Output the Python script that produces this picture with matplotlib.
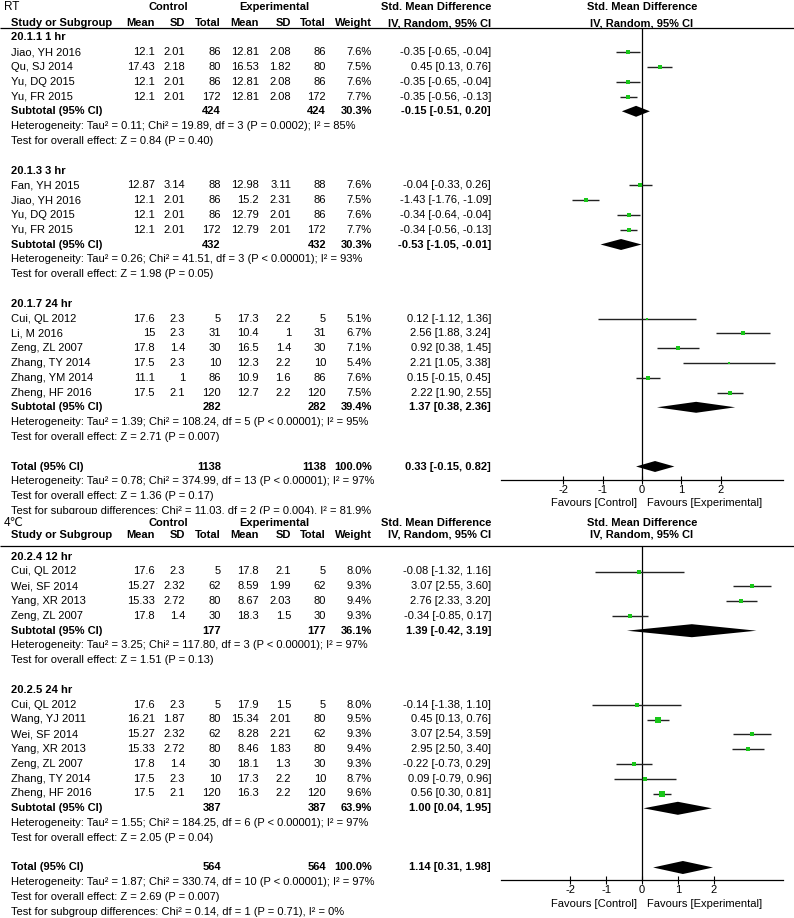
import matplotlib
matplotlib.use('Agg')  # headless
import matplotlib.pyplot as plt

plt.rcParams['font.family'] = ['Liberation Sans', 'DejaVu Sans']
plt.rcParams['font.size'] = 8
plt.rcParams['axes.unicode_minus'] = False

W, H = 794, 918
GREEN = '#19c619'

# ---------------- RT ----------------
rt_groups = ['20.1.1 1 hr', '20.1.3 3 hr', '20.1.7 24 hr']
rt_sizes = [4, 4, 6]
rt_study = ['Jiao, YH 2016', 'Qu, SJ 2014', 'Yu, DQ 2015', 'Yu, FR 2015',
            'Fan, YH 2015', 'Jiao, YH 2016', 'Yu, DQ 2015', 'Yu, FR 2015',
            'Cui, QL 2012', 'Li, M 2016', 'Zeng, ZL 2007', 'Zhang, TY 2014',
            'Zhang, YM 2014', 'Zheng, HF 2016']
rt_c_mean = [12.1, 17.43, 12.1, 12.1, 12.87, 12.1, 12.1, 12.1, 17.6, 15, 17.8, 17.5, 11.1, 17.5]
rt_c_sd = [2.01, 2.18, 2.01, 2.01, 3.14, 2.01, 2.01, 2.01, 2.3, 2.3, 1.4, 2.3, 1, 2.1]
rt_c_n = [86, 80, 86, 172, 88, 86, 86, 172, 5, 31, 30, 10, 86, 120]
rt_e_mean = [12.81, 16.53, 12.81, 12.81, 12.98, 15.2, 12.79, 12.79, 17.3, 10.4, 16.5, 12.3, 10.9, 12.7]
rt_e_sd = [2.08, 1.82, 2.08, 2.08, 3.11, 2.31, 2.01, 2.01, 2.2, 1, 1.4, 2.2, 1.6, 2.2]
rt_e_n = [86, 80, 86, 172, 88, 86, 86, 172, 5, 31, 30, 10, 86, 120]
rt_weight = [7.6, 7.5, 7.6, 7.7, 7.6, 7.5, 7.6, 7.7, 5.1, 6.7, 7.1, 5.4, 7.6, 7.5]
rt_smd = [-0.35, 0.45, -0.35, -0.35, -0.04, -1.43, -0.34, -0.34, 0.12, 2.56, 0.92, 2.21, 0.15, 2.22]
rt_lo = [-0.65, 0.13, -0.65, -0.56, -0.33, -1.76, -0.64, -0.56, -1.12, 1.88, 0.38, 1.05, -0.15, 1.90]
rt_hi = [-0.04, 0.76, -0.04, -0.13, 0.26, -1.09, -0.04, -0.13, 1.36, 3.24, 1.45, 3.38, 0.45, 2.55]
rt_sub_n = [424, 432, 282]
rt_sub_w = [30.3, 30.3, 39.4]
rt_sub_smd = [-0.15, -0.53, 1.37]
rt_sub_lo = [-0.51, -1.05, 0.38]
rt_sub_hi = [0.20, -0.01, 2.36]
rt_sub_het = ['Tau² = 0.11; Chi² = 19.89, df = 3 (P = 0.0002); I² = 85%',
              'Tau² = 0.26; Chi² = 41.51, df = 3 (P < 0.00001); I² = 93%',
              'Tau² = 1.39; Chi² = 108.24, df = 5 (P < 0.00001); I² = 95%']
rt_sub_z = ['Z = 0.84 (P = 0.40)', 'Z = 1.98 (P = 0.05)', 'Z = 2.71 (P = 0.007)']
rt_tot_n = 1138
rt_tot = [0.33, -0.15, 0.82]
rt_tot_het = 'Tau² = 0.78; Chi² = 374.99, df = 13 (P < 0.00001); I² = 97%'
rt_tot_z = 'Z = 1.36 (P = 0.17)'
rt_diff = 'Chi² = 11.03, df = 2 (P = 0.004), I² = 81.9%'

# ---------------- 4 C ----------------
c4_groups = ['20.2.4 12 hr', '20.2.5 24 hr']
c4_sizes = [4, 7]
c4_study = ['Cui, QL 2012', 'Wei, SF 2014', 'Yang, XR 2013', 'Zeng, ZL 2007',
            'Cui, QL 2012', 'Wang, YJ 2011', 'Wei, SF 2014', 'Yang, XR 2013',
            'Zeng, ZL 2007', 'Zhang, TY 2014', 'Zheng, HF 2016']
c4_c_mean = [17.6, 15.27, 15.33, 17.8, 17.6, 16.21, 15.27, 15.33, 17.8, 17.5, 17.5]
c4_c_sd = [2.3, 2.32, 2.72, 1.4, 2.3, 1.87, 2.32, 2.72, 1.4, 2.3, 2.1]
c4_c_n = [5, 62, 80, 30, 5, 80, 62, 80, 30, 10, 120]
c4_e_mean = [17.8, 8.59, 8.67, 18.3, 17.9, 15.34, 8.28, 8.46, 18.1, 17.3, 16.3]
c4_e_sd = [2.1, 1.99, 2.03, 1.5, 1.5, 2.01, 2.21, 1.83, 1.3, 2.2, 2.2]
c4_e_n = [5, 62, 80, 30, 5, 80, 62, 80, 30, 10, 120]
c4_weight = [8.0, 9.3, 9.4, 9.3, 8.0, 9.5, 9.3, 9.4, 9.3, 8.7, 9.6]
c4_smd = [-0.08, 3.07, 2.76, -0.34, -0.14, 0.45, 3.07, 2.95, -0.22, 0.09, 0.56]
c4_lo = [-1.32, 2.55, 2.33, -0.85, -1.38, 0.13, 2.54, 2.50, -0.73, -0.79, 0.30]
c4_hi = [1.16, 3.60, 3.20, 0.17, 1.10, 0.76, 3.59, 3.40, 0.29, 0.96, 0.81]
c4_sub_n = [177, 387]
c4_sub_w = [36.1, 63.9]
c4_sub_smd = [1.39, 1.00]
c4_sub_lo = [-0.42, 0.04]
c4_sub_hi = [3.19, 1.95]
c4_sub_het = ['Tau² = 3.25; Chi² = 117.80, df = 3 (P < 0.00001); I² = 97%',
              'Tau² = 1.55; Chi² = 184.25, df = 6 (P < 0.00001); I² = 97%']
c4_sub_z = ['Z = 1.51 (P = 0.13)', 'Z = 2.05 (P = 0.04)']
c4_tot_n = 564
c4_tot = [1.14, 0.31, 1.98]
c4_tot_het = 'Tau² = 1.87; Chi² = 330.74, df = 10 (P < 0.00001); I² = 97%'
c4_tot_z = 'Z = 2.69 (P = 0.007)'
c4_diff = 'Chi² = 0.14, df = 1 (P = 0.71), I² = 0%'

# column right edges (pixels)
COLS = [155, 185, 221, 259, 291, 326, 372, 491]
NAME_X = 11

fig = plt.figure(figsize=(W / 100, H / 100), dpi=100)


def fmt_ci(s, lo, hi):
    return f'{s:.2f} [{lo:.2f}, {hi:.2f}]'


def draw_panel(top_px, bot_px, base_px, z, label, hdr0, hdr1, line_r, axis_r, xmax, dh,
               groups, sizes, study, c_mean, c_sd, c_n, e_mean, e_sd, e_n, weight,
               smd, lo, hi, sub_n, sub_w, sub_smd, sub_lo, sub_hi, sub_het, sub_z,
               tot_n, tot, tot_het, tot_z, diff):
    dy = 14.8
    ylim = ((bot_px - base_px) / dy, (top_px - base_px) / dy)
    rect = [0, 1 - bot_px / H, 1, (bot_px - top_px) / H]
    ax = fig.add_axes(rect, zorder=z)
    ax.set_xlim(0, W)
    ax.set_ylim(*ylim)
    ax.set_facecolor('white')
    ax.set_xticks([])
    ax.set_yticks([])
    for s in ax.spines.values():
        s.set_visible(False)

    fx = fig.add_axes([501 / W, rect[1], 282 / W, rect[3]], sharey=ax, zorder=z + 0.5)
    fx.patch.set_visible(False)
    fx.set_xlim(-xmax, xmax)
    for k in ['top', 'left', 'right']:
        fx.spines[k].set_visible(False)
    fx.spines['bottom'].set_position(('data', axis_r))
    fx.spines['bottom'].set_linewidth(0.9)
    fx.set_xticks([-2, -1, 0, 1, 2])
    fx.tick_params(axis='x', direction='inout', length=6, width=0.8, pad=1, labelsize=8)
    fx.tick_params(axis='y', left=False, labelleft=False)

    bold = dict(fontweight='bold')
    # headers
    ax.text(4, hdr0, label, ha='left', va='center', fontsize=8.5)
    ax.text(168.7, hdr0, 'Control', ha='center', va='center', **bold)
    ax.text(274.3, hdr0, 'Experimental', ha='center', va='center', **bold)
    ax.text(COLS[7], hdr0, 'Std. Mean Difference', ha='right', va='center', **bold)
    fx.text(0, hdr0, 'Std. Mean Difference', ha='center', va='center', **bold)
    ax.text(NAME_X, hdr1, 'Study or Subgroup', ha='left', va='center', **bold)
    for x, t in zip(COLS, ['Mean', 'SD', 'Total', 'Mean', 'SD', 'Total', 'Weight',
                           'IV, Random, 95% CI']):
        ax.text(x, hdr1, t, ha='right', va='center', **bold)
    fx.text(0, hdr1, 'IV, Random, 95% CI', ha='center', va='center', **bold)
    ax.hlines(line_r, 0, W, color='black', lw=0.9)
    fx.vlines(0, line_r, axis_r, color='black', lw=0.9, zorder=1)

    r = 2
    i = 0
    for g, n in enumerate(sizes):
        ax.text(NAME_X, r, groups[g], ha='left', va='center', **bold)
        r += 1
        for _ in range(n):
            vals = [f'{c_mean[i]:g}', f'{c_sd[i]:g}', f'{c_n[i]}', f'{e_mean[i]:g}',
                    f'{e_sd[i]:g}', f'{e_n[i]}', f'{weight[i]:.1f}%',
                    fmt_ci(smd[i], lo[i], hi[i])]
            ax.text(NAME_X, r, study[i], ha='left', va='center')
            for x, t in zip(COLS, vals):
                ax.text(x, r, t, ha='right', va='center')
            fx.hlines(r, lo[i], hi[i], color='#222222', lw=1.0, zorder=2)
            fx.plot(smd[i], r, marker='s', ms=weight[i] * 0.38, color=GREEN,
                    mec=GREEN, mew=0, zorder=3)
            r += 1
            i += 1
        ax.text(NAME_X, r, 'Subtotal (95% CI)', ha='left', va='center', **bold)
        for x, t in zip([COLS[2], COLS[5], COLS[6], COLS[7]],
                        [f'{sub_n[g]}', f'{sub_n[g]}', f'{sub_w[g]:.1f}%',
                         fmt_ci(sub_smd[g], sub_lo[g], sub_hi[g])]):
            ax.text(x, r, t, ha='right', va='center', **bold)
        fx.fill([sub_lo[g], sub_smd[g], sub_hi[g], sub_smd[g]], [r, r - dh, r, r + dh],
                color='black', lw=0, zorder=3)
        ax.text(NAME_X, r + 1, 'Heterogeneity: ' + sub_het[g], ha='left', va='center')
        ax.text(NAME_X, r + 2, 'Test for overall effect: ' + sub_z[g], ha='left', va='center')
        r += 4

    ax.text(NAME_X, r, 'Total (95% CI)', ha='left', va='center', **bold)
    for x, t in zip([COLS[2], COLS[5], COLS[6], COLS[7]],
                    [f'{tot_n}', f'{tot_n}', '100.0%', fmt_ci(*tot)]):
        ax.text(x, r, t, ha='right', va='center', **bold)
    fx.fill([tot[1], tot[0], tot[2], tot[0]], [r, r - dh, r, r + dh],
            color='black', lw=0, zorder=3)
    ax.text(NAME_X, r + 1, 'Heterogeneity: ' + tot_het, ha='left', va='center')
    ax.text(NAME_X, r + 2, 'Test for overall effect: ' + tot_z, ha='left', va='center')
    ax.text(NAME_X, r + 3, 'Test for subgroup differences: ' + diff, ha='left', va='center')

    fav_r = axis_r + 1.6
    fx.annotate('Favours [Control]', xy=(0, fav_r), xytext=(-3.5, 0),
                textcoords='offset points', ha='right', va='center')
    fx.annotate('Favours [Experimental]', xy=(0, fav_r), xytext=(3.5, 0),
                textcoords='offset points', ha='left', va='center')


# RT panel on top; its last line is partly covered by the 4C panel
draw_panel(0, 514, 7.7, 1, 'RT', -0.05, 1.05, 1.36, 31.9, 3.57, 0.37,
           rt_groups, rt_sizes, rt_study, rt_c_mean, rt_c_sd, rt_c_n, rt_e_mean, rt_e_sd,
           rt_e_n, rt_weight, rt_smd, rt_lo, rt_hi, rt_sub_n, rt_sub_w, rt_sub_smd,
           rt_sub_lo, rt_sub_hi, rt_sub_het, rt_sub_z, rt_tot_n, rt_tot, rt_tot_het,
           rt_tot_z, rt_diff)

draw_panel(514, 918, 527.1, 3, '4℃', -0.28, 0.53, 1.28, 23.84, 3.93, 0.44,
           c4_groups, c4_sizes, c4_study, c4_c_mean, c4_c_sd, c4_c_n, c4_e_mean, c4_e_sd,
           c4_e_n, c4_weight, c4_smd, c4_lo, c4_hi, c4_sub_n, c4_sub_w, c4_sub_smd,
           c4_sub_lo, c4_sub_hi, c4_sub_het, c4_sub_z, c4_tot_n, c4_tot, c4_tot_het,
           c4_tot_z, c4_diff)

fig.savefig('out.png', dpi=100, facecolor='white')
